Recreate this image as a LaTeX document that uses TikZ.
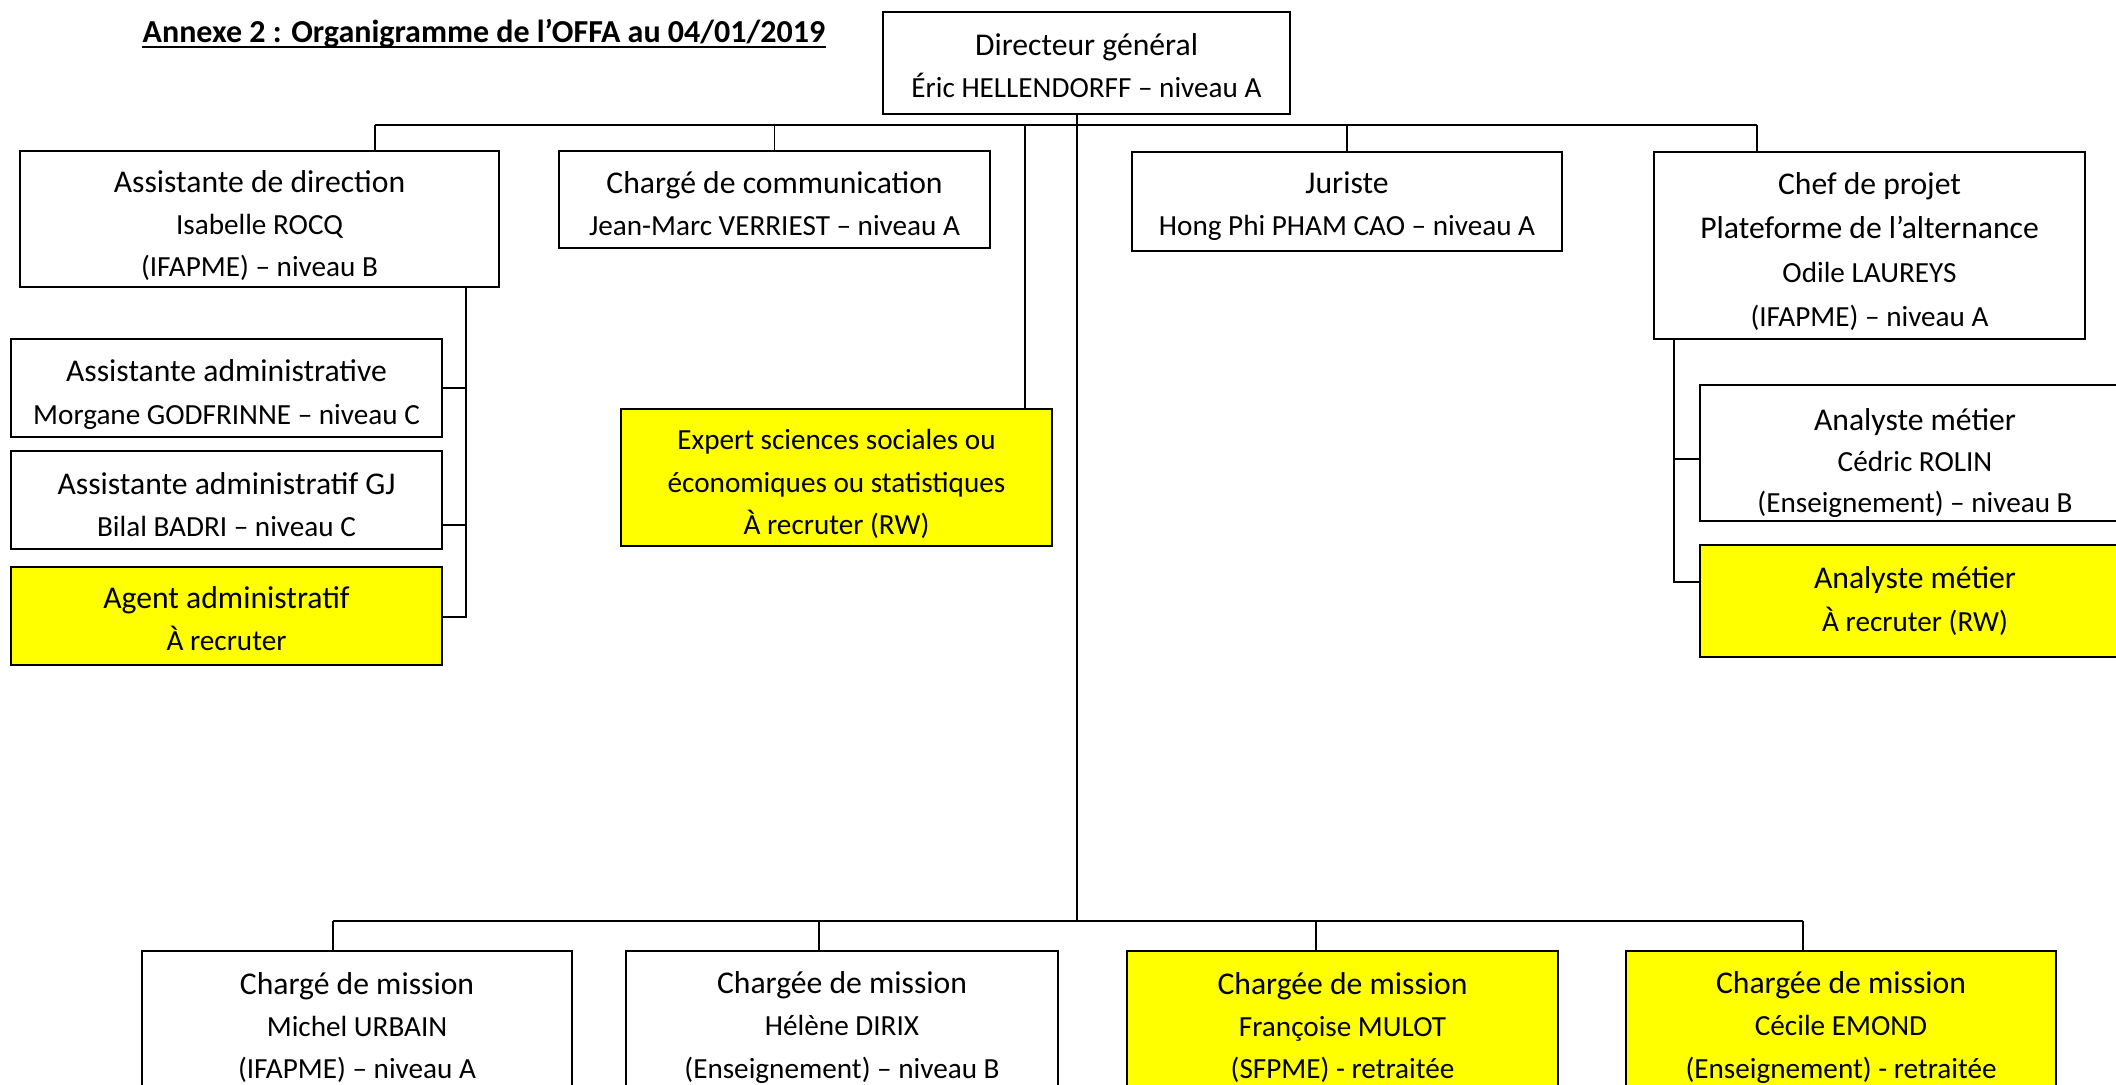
\documentclass[tikz,border=0pt]{standalone}
\usepackage{fontspec}
\setmainfont{Carlito}
\usepackage{tikz}

\definecolor{jaune}{RGB}{255,255,0}
\newcommand{\cale}{\rule{0pt}{\pgfkeysvalueof{/tikz/haut}}}
\newcommand{\fonction}[1]{{\fontsize{9}{12}\selectfont\cale #1}}
\newcommand{\fonctionlarge}[1]{{\fontsize{9}{12.5}\selectfont #1}}
\tikzset{
  haut/.initial=8.7pt,
  poste/.style={draw=black, line width=0.6pt, fill=white, align=center, inner sep=0pt,
    font={\fontsize{8.3}{12}\selectfont}},
  large/.style={font={\fontsize{8.3}{12.5}\selectfont}},
  serre/.style={font={\fontsize{8.3}{11.6}\selectfont}},
  vacant/.style={poste, fill=jaune},
  lien/.style={draw=black, line width=0.5pt}
}

\begin{document}
\begin{tikzpicture}[x=0.01cm, y=-0.01cm]
\useasboundingbox (0,0) rectangle (2116,1084);
\clip (0,0) rectangle (2116,1084);
% titre
\node[anchor=base west, inner sep=0pt, font={\fontsize{9.1}{12}\selectfont\bfseries}] (titre) at (142,42) {Annexe 2 : Organigramme de l’OFFA au 04/01/2019};
\draw[line width=0.6pt] (titre.base west |- 0,47) -- (titre.base east |- 0,47);
% direction
\node[poste, haut=7.9pt, minimum width=4.07cm, minimum height=1.02cm] (dg) at (1086.5,63) {\fonction{Directeur général}\\Éric HELLENDORFF – niveau A};
\node[poste, haut=10pt, minimum width=4.79cm, minimum height=1.36cm] (adir) at (259.5,219) {\fonction{Assistante de direction}\\Isabelle ROCQ\\(IFAPME) – niveau B};
\node[poste, minimum width=4.31cm, minimum height=0.97cm] (com) at (774.5,199.5) {\fonction{Chargé de communication}\\Jean-Marc VERRIEST – niveau A};
\node[poste, haut=9pt, minimum width=4.30cm, minimum height=0.99cm] (jur) at (1347,201.5) {\fonction{Juriste}\\Hong Phi PHAM CAO – niveau A};
\node[poste, large, haut=9.9pt, minimum width=4.31cm, minimum height=1.87cm] (chef) at (1869.5,245.5) {\fonctionlarge{\cale Chef de projet}\\\fonctionlarge{Plateforme de l’alternance}\\Odile LAUREYS\\(IFAPME) – niveau A};
% secretariat
\node[poste, haut=9.9pt, minimum width=4.31cm, minimum height=0.98cm] (aadm) at (226.5,388) {\fonction{Assistante administrative}\\Morgane GODFRINNE – niveau C};
\node[poste, minimum width=4.31cm, minimum height=0.98cm] (agj) at (226.5,500) {\fonction{Assistante administratif GJ}\\Bilal BADRI – niveau C};
\node[vacant, haut=7.5pt, minimum width=4.31cm, minimum height=0.98cm] (agent) at (226.5,616) {\fonction{Agent administratif}\\À recruter};
\node[vacant, haut=9.5pt, minimum width=4.31cm, minimum height=1.37cm] (expert) at (836.5,477.5) {\cale Expert sciences sociales ou\\économiques ou statistiques\\À recruter (RW)};
% plateforme
\node[poste, serre, haut=11.8pt, minimum width=4.30cm, minimum height=1.36cm] (am1) at (1915,453) {{\fontsize{9}{11.6}\selectfont\cale Analyste métier}\\Cédric ROLIN\\(Enseignement) – niveau B};
\node[vacant, haut=6pt, minimum width=4.30cm, minimum height=1.12cm] (am2) at (1915,601) {\fonction{Analyste métier}\\À recruter (RW)};
% charges de mission
\node[poste, minimum width=4.30cm, minimum height=1.44cm] (cm1) at (357,1023) {\fonction{Chargé de mission}\\Michel URBAIN\\(IFAPME) – niveau A};
\node[poste, minimum width=4.32cm, minimum height=1.44cm] (cm2) at (842,1023) {\fonction{Chargée de mission}\\Hélène DIRIX\\(Enseignement) – niveau B};
\node[vacant, minimum width=4.31cm, minimum height=1.44cm] (cm3) at (1342.5,1023) {\fonction{Chargée de mission}\\Françoise MULOT\\(SFPME) - retraitée};
\node[vacant, minimum width=4.30cm, minimum height=1.44cm] (cm4) at (1841,1023) {\fonction{Chargée de mission}\\Cécile EMOND\\(Enseignement) - retraitée};

% liaisons
\coordinate (hg) at (375,125);
\coordinate (hd) at (1757,125);
\coordinate (hx) at (1025,125);
\coordinate (tronc) at (1077,921);
\coordinate (bg) at (333,921);
\coordinate (b2) at (819,921);
\coordinate (b3) at (1316,921);
\coordinate (bd) at (1803,921);
\coordinate (cg) at (466,617);
\coordinate (tgj) at (466,525);
\coordinate (cd) at (1674,582);
\coordinate (tam) at (1674,459);

\draw[lien] (hg) -- (hd);
\draw[lien] (hg) -- (hg |- adir.north);
\draw[lien] (com.north |- hg) -- (com.north);
\draw[lien] (jur.north |- hg) -- (jur.north);
\draw[lien] (hd) -- (hd |- chef.north);
\draw[lien] (hx) -- (hx |- expert.north);
\draw[lien] (tronc |- dg.south) -- (tronc);
\draw[lien] (bg) -- (bd);
\draw[lien] (bg) -- (bg |- cm1.north);
\draw[lien] (b2) -- (b2 |- cm2.north);
\draw[lien] (b3) -- (b3 |- cm3.north);
\draw[lien] (bd) -- (bd |- cm4.north);
\draw[lien] (cg |- adir.south) -- (cg) -- (cg -| agent.east);
\draw[lien] (cg |- aadm.east) -- (aadm.east);
\draw[lien] (tgj) -- (tgj -| agj.east);
\draw[lien] (cd |- chef.south) -- (cd) -- (cd -| am2.west);
\draw[lien] (tam) -- (tam -| am1.west);
\end{tikzpicture}
\end{document}
